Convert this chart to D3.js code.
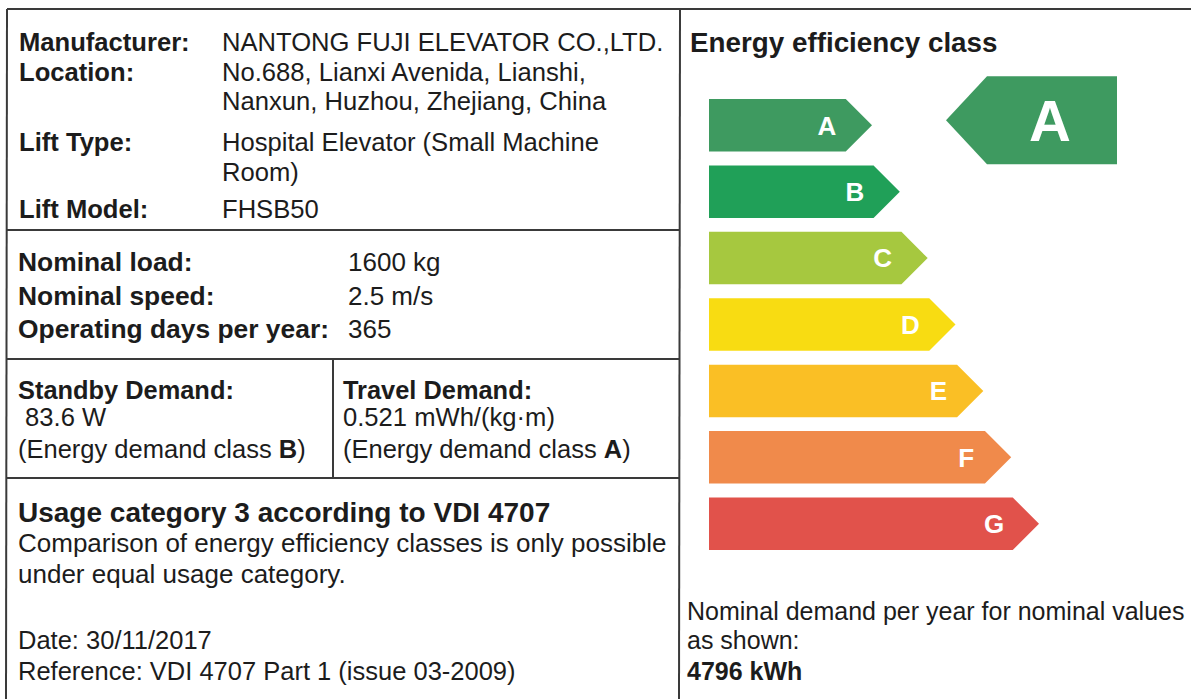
<!DOCTYPE html>
<html>
<head>
<meta charset="utf-8">
<script src="https://cdn.jsdelivr.net/npm/d3@7"></script>
<style>
  body { margin: 0; background: #fff; }
  svg { display: block; font-family: "Liberation Sans", Arial, sans-serif; }
</style>
</head>
<body>
<div id="label"></div>
<script>
// energy classes and their bar colours
const classes = ['A', 'B', 'C', 'D', 'E', 'F', 'G'];
const classColors = ['#3e9a60', '#20a058', '#a6c83f', '#f8dc12', '#fabf25', '#f08a4b', '#e1524b'];
const ratedClass = 'A';

// lift data block
const infoLabels = ['Manufacturer:', 'Location:', '', 'Lift Type:', '', 'Lift Model:'];
const infoValues = ['NANTONG FUJI ELEVATOR CO.,LTD.', 'No.688, Lianxi Avenida, Lianshi,',
  'Nanxun, Huzhou, Zhejiang, China', 'Hospital Elevator (Small Machine', 'Room)', 'FHSB50'];
const nominalLabels = ['Nominal load:', 'Nominal speed:', 'Operating days per year:'];
const nominalValues = ['1600 kg', '2.5 m/s', '365'];
const standby = { title: 'Standby Demand:', value: ' 83.6 W', cls: 'B' };
const travel = { title: 'Travel Demand:', value: '0.521 mWh/(kg\u00b7m)', cls: 'A' };
const usageTitle = 'Usage category 3 according to VDI 4707';
const usageLines = ['Comparison of energy efficiency classes is only possible', 'under equal usage category.'];
const footerLines = ['Date: 30/11/2017', 'Reference: VDI 4707 Part 1 (issue 03-2009)'];
const demandLines = ['Nominal demand per year for nominal values', 'as shown:'];
const demandTotal = '4796 kWh';

const width = 1191;
const height = 699;
const ink = '#1c1c1c';
const lineColor = '#3a3a3a';

const svg = d3.select('#label')
  .append('svg')
  .attr('width', width)
  .attr('height', height);

// frame lines
const frame = svg.append('g').attr('class', 'frame')
  .attr('stroke', lineColor)
  .attr('stroke-width', 2)
  .attr('fill', 'none');
frame.append('line').attr('x1', 7).attr('x2', width).attr('y1', 9).attr('y2', 9);
frame.append('line').attr('x1', 7).attr('x2', 6).attr('y1', 9).attr('y2', height);
frame.append('line').attr('x1', 680).attr('x2', 679).attr('y1', 9).attr('y2', height);
[230, 359, 478].forEach(y => {
  frame.append('line').attr('x1', 7).attr('x2', 680).attr('y1', y).attr('y2', y);
});
frame.append('line').attr('x1', 333).attr('x2', 333).attr('y1', 359).attr('y2', 478);

// helper for text rows
function addText(g, x, y, str, opts = {}) {
  return g.append('text')
    .attr('x', x)
    .attr('y', y)
    .attr('fill', ink)
    .attr('font-size', opts.size || 25.6)
    .attr('font-weight', opts.bold ? 700 : 400)
    .attr('xml:space', 'preserve')
    .text(str);
}

const left = svg.append('g').attr('class', 'left-panel');
const infoY = [51, 81, 110, 151, 181, 218];
infoLabels.forEach((d, i) => { if (d) addText(left, 19, infoY[i], d, { bold: true }); });
infoValues.forEach((d, i) => addText(left, 222, infoY[i], d));

const nominalY = [271, 305, 338];
nominalLabels.forEach((d, i) => addText(left, 18, nominalY[i], d, { bold: true, size: 26.4 }));
nominalValues.forEach((d, i) => addText(left, 348, nominalY[i], d, { size: 26 }));

[[standby, 18], [travel, 343]].forEach(([item, x]) => {
  addText(left, x, 399, item.title, { bold: true, size: 25.4 });
  addText(left, x, 426, item.value, { size: 25.6 });
  const t = addText(left, x, 458, '(Energy demand class ', { size: 25.5 });
  t.append('tspan').attr('font-weight', 700).text(item.cls);
  t.append('tspan').text(')');
});

addText(left, 18, 522, usageTitle, { bold: true, size: 28 });
usageLines.forEach((d, i) => addText(left, 18, 552 + i * 31, d, { size: 26 }));
footerLines.forEach((d, i) => addText(left, 18, 649 + i * 31, d, { size: 25.5 }));

// right panel: energy class arrows
const right = svg.append('g').attr('class', 'right-panel');
addText(right, 690, 52, 'Energy efficiency class', { bold: true, size: 27.8 });

const y = d3.scaleBand()
  .domain(classes)
  .range([99, 550])
  .paddingInner(0.21)
  .paddingOuter(0);
const tipX = d3.scaleLinear()
  .domain([0, classes.length - 1])
  .range([872, 1039]);
const color = d3.scaleOrdinal().domain(classes).range(classColors);
const barLeft = 709;

const bars = right.append('g').attr('class', 'bars')
  .selectAll('g')
  .data(classes)
  .join('g');

bars.append('path')
  .attr('fill', d => color(d))
  .attr('d', (d, i) => {
    const top = y(d);
    const h = y.bandwidth();
    const tip = tipX(i);
    const neck = tip - h / 2;
    return d3.line()([[barLeft, top], [neck, top], [tip, top + h / 2], [neck, top + h], [barLeft, top + h]]) + 'Z';
  });

bars.append('text')
  .attr('x', (d, i) => tipX(i) - 45)
  .attr('y', d => y(d) + y.bandwidth() / 2)
  .attr('dy', '0.36em')
  .attr('text-anchor', 'middle')
  .attr('fill', '#fff')
  .attr('font-size', 26)
  .attr('font-weight', 700)
  .text(d => d);

// rating indicator arrow
const indH = 88;
const indCenter = y(ratedClass) + y.bandwidth() / 2 - 5;
const indTip = 946;
const indRight = 1117;
const indicator = right.append('g').attr('class', 'indicator');
indicator.append('path')
  .attr('fill', color(ratedClass))
  .attr('d', d3.line()([
    [indTip, indCenter],
    [indTip + indH / 2 - 3, indCenter - indH / 2],
    [indRight, indCenter - indH / 2],
    [indRight, indCenter + indH / 2],
    [indTip + indH / 2 - 3, indCenter + indH / 2]
  ]) + 'Z');
indicator.append('text')
  .attr('x', 1050)
  .attr('y', indCenter)
  .attr('dy', '0.36em')
  .attr('text-anchor', 'middle')
  .attr('fill', '#fff')
  .attr('font-size', 58)
  .attr('font-weight', 700)
  .text(ratedClass);

demandLines.forEach((d, i) => addText(right, 687, 620 + i * 29, d, { size: 25 }));
addText(right, 687, 680, demandTotal, { bold: true, size: 25 });
</script>
</body>
</html>
